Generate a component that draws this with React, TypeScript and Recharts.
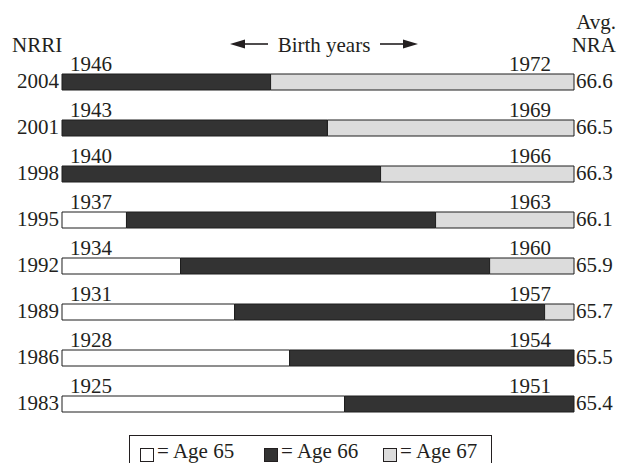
import React from "react";
import { BarChart, Bar, XAxis, YAxis } from "recharts";

// rows top to bottom
const nrri = ["2004", "2001", "1998", "1995", "1992", "1989", "1986", "1983"];
const avgNra = ["66.6", "66.5", "66.3", "66.1", "65.9", "65.7", "65.5", "65.4"];
const startYears = [1946, 1943, 1940, 1937, 1934, 1931, 1928, 1925];
const endYears = [1972, 1969, 1966, 1963, 1960, 1957, 1954, 1951];

// birth years spent at each normal retirement age (27-year window)
const age65 = [0, 0, 0, 3.4, 6.25, 9.1, 12, 14.9];
const age66 = [11, 14, 16.8, 16.3, 16.3, 16.35, 15, 12.1];
const age67 = [16, 13, 10.2, 7.3, 4.45, 1.55, 0, 0];

const data = nrri.map((n, i) => ({
  nrri: n,
  nra: avgNra[i],
  a65: age65[i],
  a66: age66[i],
  a67: age67[i],
}));

const FONT = "'Liberation Serif', 'Times New Roman', serif";
const FS = 21;
const INK = "#231f20";
const DARK = "#333333";
const LIGHT = "#dcdcdc";
const W = 618;
const H = 463;
const PLOT_LEFT = 62;
const PLOT_RIGHT = 574;

const LeftTick = (props: any) => {
  const { y, payload } = props;
  const i = nrri.indexOf(payload.value);
  return (
    <g fontFamily={FONT} fontSize={FS} fill={INK}>
      <text x={PLOT_LEFT - 3} y={y + 6} textAnchor="end">
        {payload.value}
      </text>
      <text x={PLOT_LEFT + 8} y={y - 11}>
        {startYears[i]}
      </text>
      <text x={PLOT_RIGHT - 23} y={y - 11} textAnchor="end">
        {endYears[i]}
      </text>
    </g>
  );
};

const RightTick = (props: any) => {
  const { y, payload } = props;
  return (
    <text x={PLOT_RIGHT + 2} y={y + 6} fontFamily={FONT} fontSize={FS} fill={INK}>
      {payload.value}
    </text>
  );
};

function Overlay() {
  const legend = [
    { fill: "#ffffff", label: "= Age 65", x: 140 },
    { fill: DARK, label: "= Age 66", x: 264 },
    { fill: LIGHT, label: "= Age 67", x: 383 },
  ];
  return (
    <svg
      width={W}
      height={H}
      style={{ position: "absolute", left: 0, top: 0, pointerEvents: "none" }}
    >
      <g fontFamily={FONT} fontSize={FS} fill={INK}>
        <text x={12} y={52}>NRRI</text>
        <text x={616} y={29} textAnchor="end">Avg.</text>
        <text x={616} y={52} textAnchor="end">NRA</text>
        <text x={324} y={52} textAnchor="middle">Birth years</text>
      </g>
      {/* arrows */}
      <line x1={242} y1={44} x2={268} y2={44} stroke={INK} strokeWidth={1.6} />
      <polygon points="230,44 245,39.5 245,48.5" fill={INK} />
      <line x1={380} y1={44} x2={406} y2={44} stroke={INK} strokeWidth={1.6} />
      <polygon points="418,44 403,39.5 403,48.5" fill={INK} />
      {/* legend */}
      <rect x={129.5} y={435.5} width={362} height={40} fill="none" stroke={INK} strokeWidth={1} />
      {legend.map((l) => (
        <g key={l.label}>
          <rect x={l.x + 0.5} y={448.5} width={13} height={13} fill={l.fill} stroke={INK} strokeWidth={1} />
          <text x={l.x + 17} y={458} fontFamily={FONT} fontSize={FS} fill={INK}>
            {l.label}
          </text>
        </g>
      ))}
    </svg>
  );
}

export default function App() {
  return (
    <div style={{ position: "absolute", left: 0, top: 0, width: W, height: H, background: "#fff" }}>
      <BarChart
        width={W}
        height={H}
        data={data}
        layout="vertical"
        margin={{ top: 59, right: 0, bottom: 36, left: 0 }}
      >
        <XAxis type="number" domain={[0, 27]} hide />
        <YAxis
          yAxisId="left"
          type="category"
          dataKey="nrri"
          width={PLOT_LEFT}
          axisLine={false}
          tickLine={false}
          tick={<LeftTick />}
          interval={0}
        />
        <YAxis
          yAxisId="right"
          orientation="right"
          type="category"
          dataKey="nra"
          width={W - PLOT_RIGHT}
          axisLine={false}
          tickLine={false}
          tick={<RightTick />}
          interval={0}
        />
        <Bar yAxisId="left" dataKey="a65" stackId="s" barSize={16} fill="#ffffff" stroke="#1e1e1e" strokeWidth={1} isAnimationActive={false} />
        <Bar yAxisId="left" dataKey="a66" stackId="s" barSize={16} fill={DARK} stroke="#1e1e1e" strokeWidth={1} isAnimationActive={false} />
        <Bar yAxisId="left" dataKey="a67" stackId="s" barSize={16} fill={LIGHT} stroke="#1e1e1e" strokeWidth={1} isAnimationActive={false} />
      </BarChart>
      <Overlay />
    </div>
  );
}
